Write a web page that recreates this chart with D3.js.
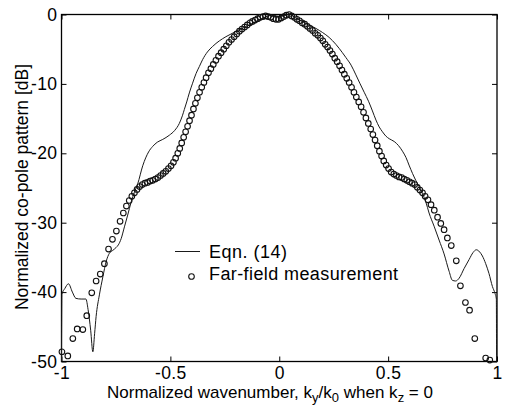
<!DOCTYPE html>
<html>
<head>
<meta charset="utf-8">
<script src="https://cdn.jsdelivr.net/npm/d3@7"></script>
<style>
  body { margin: 0; background: #fff; }
  text { font-family: "Liberation Sans", Arial, Helvetica, sans-serif; fill: #000; }
</style>
</head>
<body>
<div id="chart"></div>
<script>
// Eqn. (14) curve: normalized wavenumber ky/k0 and pattern in dB
var eqnK = [-1.000, -0.998, -0.985, -0.968, -0.950, -0.934, -0.910, -0.888, -0.878, -0.866,
  -0.856, -0.848, -0.841, -0.826, -0.810, -0.795, -0.780, -0.765, -0.750, -0.739,
  -0.726, -0.711, -0.696, -0.680, -0.665, -0.650, -0.627, -0.600, -0.581, -0.560,
  -0.535, -0.505, -0.480, -0.459, -0.445, -0.436, -0.425, -0.413, -0.398, -0.382,
  -0.367, -0.352, -0.330, -0.306, -0.275, -0.245, -0.215, -0.183, -0.150, -0.122,
  -0.100, -0.076, -0.050, -0.025, 0.000, 0.020, 0.046, 0.080, 0.100, 0.122,
  0.150, 0.168, 0.199, 0.229, 0.260, 0.290, 0.306, 0.330, 0.352, 0.370,
  0.390, 0.410, 0.428, 0.444, 0.459, 0.474, 0.489, 0.505, 0.528, 0.548,
  0.566, 0.582, 0.596, 0.612, 0.627, 0.642, 0.658, 0.673, 0.688, 0.711,
  0.734, 0.757, 0.780, 0.795, 0.810, 0.826, 0.849, 0.872, 0.890, 0.905,
  0.920, 0.933, 0.948, 0.963, 0.979, 0.991, 0.997, 0.998];
var eqnDb = [-50, -40.3, -39.5, -38.8, -40.0, -40.9, -41.0, -41.0, -42.5, -45.5,
  -48.6, -46.0, -43.5, -40.4, -37.8, -35.6, -34.4, -34.0, -33.6, -33.2,
  -32.3, -30.6, -28.9, -27.0, -25.6, -24.4, -21.8, -19.8, -19.0, -18.4,
  -18.0, -17.4, -16.7, -15.7, -14.6, -13.7, -12.6, -11.3, -9.9, -8.5,
  -7.5, -6.5, -5.4, -4.6, -3.8, -3.2, -2.7, -2.2, -1.7, -1.3,
  -0.9, -0.55, -0.2, -0.1, -0.3, -0.2, 0.0, -0.6, -0.9, -1.3,
  -1.7, -2.0, -2.6, -3.3, -4.3, -5.5, -6.2, -7.3, -8.7, -9.9,
  -11.2, -12.5, -13.9, -15.2, -16.2, -16.9, -17.5, -17.9, -18.3, -18.9,
  -19.7, -20.6, -21.7, -22.9, -23.9, -24.8, -25.8, -27.0, -28.6, -30.5,
  -32.5, -34.5, -37.0, -38.3, -38.4, -38.0, -36.6, -35.3, -34.3, -33.9,
  -34.2, -34.8, -35.9, -37.3, -39.2, -40.2, -41.0, -50];

// Far-field measurement points
var measK = [-0.998, -0.971, -0.948, -0.928, -0.902, -0.884, -0.861, -0.841, -0.822, -0.803,
  -0.784, -0.766, -0.748, -0.731, -0.716, -0.702, -0.689, -0.677, -0.665, -0.653,
  -0.641, -0.629, -0.617, -0.605, -0.593, -0.581, -0.569, -0.557, -0.545, -0.533,
  -0.521, -0.509, -0.497, -0.486, -0.476, -0.466, -0.457, -0.448, -0.439, -0.430,
  -0.421, -0.412, -0.403, -0.394, -0.385, -0.376, -0.366, -0.356, -0.346, -0.336,
  -0.325, -0.314, -0.303, -0.291, -0.279, -0.267, -0.255, -0.243, -0.231, -0.219,
  -0.207, -0.195, -0.183, -0.171, -0.159, -0.147, -0.135, -0.123, -0.111, -0.099,
  -0.087, -0.075, -0.063, -0.051, -0.039, -0.027, -0.015, -0.003, 0.009, 0.021,
  0.033, 0.045, 0.057, 0.069, 0.081, 0.093, 0.105, 0.117, 0.129, 0.141,
  0.153, 0.165, 0.177, 0.189, 0.200, 0.211, 0.222, 0.233, 0.244, 0.255,
  0.266, 0.277, 0.288, 0.299, 0.310, 0.321, 0.332, 0.343, 0.354, 0.365,
  0.376, 0.387, 0.398, 0.409, 0.420, 0.430, 0.440, 0.450, 0.460, 0.470,
  0.480, 0.491, 0.502, 0.514, 0.526, 0.538, 0.550, 0.562, 0.574, 0.586,
  0.598, 0.610, 0.622, 0.634, 0.646, 0.658, 0.670, 0.683, 0.697, 0.712,
  0.727, 0.742, 0.757, 0.772, 0.790, 0.813, 0.832, 0.855, 0.874, 0.898,
  0.948, 0.967];
var measDb = [-48.6, -49.2, -46.7, -45.3, -45.4, -43.4, -40.1, -38.4, -37.4, -35.9,
  -33.8, -32.4, -31.2, -29.8, -28.6, -27.6, -26.8, -26.2, -25.7, -25.2,
  -24.8, -24.5, -24.3, -24.2, -24.0, -23.9, -23.7, -23.5, -23.2, -22.9,
  -22.6, -22.2, -21.8, -21.3, -20.7, -20.0, -19.3, -18.5, -17.7, -16.9,
  -16.1, -15.3, -14.5, -13.6, -12.8, -12.0, -11.2, -10.5, -9.8, -9.1,
  -8.4, -7.8, -7.2, -6.6, -6.0, -5.5, -5.0, -4.5, -4.0, -3.6,
  -3.2, -2.8, -2.4, -2.1, -1.8, -1.5, -1.2, -1.0, -0.8, -0.6,
  -0.4, -0.3, -0.2, -0.3, -0.4, -0.6, -0.7, -0.7, -0.5, -0.3,
  -0.1, 0.0, -0.2, -0.4, -0.7, -0.9, -1.2, -1.4, -1.7, -2.0,
  -2.3, -2.7, -3.0, -3.4, -3.8, -4.3, -4.7, -5.2, -5.7, -6.3,
  -6.8, -7.4, -8.0, -8.6, -9.2, -9.8, -10.5, -11.2, -11.9, -12.6,
  -13.3, -14.1, -14.9, -15.7, -16.5, -17.3, -18.1, -18.9, -19.7, -20.4,
  -21.1, -21.7, -22.2, -22.7, -23.0, -23.2, -23.4, -23.5, -23.7, -23.9,
  -24.1, -24.3, -24.5, -24.9, -25.3, -25.7, -26.2, -26.7, -27.4, -28.2,
  -29.2, -30.1, -31.0, -32.2, -33.3, -35.5, -39.1, -41.5, -42.6, -46.7,
  -49.5, -49.8];

// tick values
var xTicks = [-1, -0.5, 0, 0.5, 1];
var yTicks = [-50, -40, -30, -20, -10, 0];

var svgWidth = 506;
var svgHeight = 405;
var margin = { top: 14.5, right: 9, bottom: 43.5, left: 61.5 };
var width = svgWidth - margin.left - margin.right;
var height = svgHeight - margin.top - margin.bottom;

var svg = d3.select("#chart")
  .append("svg")
  .attr("width", svgWidth)
  .attr("height", svgHeight);

var chartGroup = svg.append("g")
  .attr("transform", `translate(${margin.left}, ${margin.top})`);

// scales
var xScale = d3.scaleLinear().domain([-1, 1]).range([0, width]);
var yScale = d3.scaleLinear().domain([-50, 0]).range([height, 0]);

// axes, ticks pointing inward like matlab
function styleAxis(g) {
  g.select(".domain").remove();
  g.selectAll("line").attr("stroke", "#000").attr("stroke-width", 1);
  g.selectAll("text").attr("font-size", "17.5px").attr("fill", "#000")
    .attr("letter-spacing", "0.4px")
    .attr("font-family", "Liberation Sans, Arial, sans-serif");
}

chartGroup.append("g")
  .attr("transform", `translate(0, ${height})`)
  .call(d3.axisBottom(xScale).tickValues(xTicks).tickSizeInner(-5).tickSizeOuter(0)
    .tickPadding(5).tickFormat(d3.format("")))
  .call(styleAxis);

chartGroup.append("g")
  .call(d3.axisTop(xScale).tickValues(xTicks).tickSizeInner(-5).tickSizeOuter(0)
    .tickFormat(""))
  .call(styleAxis);

chartGroup.append("g")
  .call(d3.axisLeft(yScale).tickValues(yTicks).tickSizeInner(-5).tickSizeOuter(0)
    .tickPadding(4).tickFormat(d3.format("")))
  .call(styleAxis);

chartGroup.append("g")
  .attr("transform", `translate(${width}, 0)`)
  .call(d3.axisRight(yScale).tickValues(yTicks).tickSizeInner(-5).tickSizeOuter(0)
    .tickFormat(""))
  .call(styleAxis);

// hyphen minus like the original
chartGroup.selectAll(".tick text").text(function() {
  return this.textContent.replace("\u2212", "-");
});

// plot box
chartGroup.append("rect")
  .attr("width", width)
  .attr("height", height)
  .attr("fill", "none")
  .attr("stroke", "#000")
  .attr("stroke-width", 1.3);

// Eqn. (14) line
var eqnData = eqnK.map((k, i) => ({ k: k, db: eqnDb[i] }));
var line = d3.line()
  .x(d => xScale(d.k))
  .y(d => yScale(d.db))
  .curve(d3.curveMonotoneX);

chartGroup.append("path")
  .datum(eqnData)
  .attr("d", line)
  .attr("fill", "none")
  .attr("stroke", "#1a1a1a")
  .attr("stroke-width", 1);

// measurement circles
var measData = measK.map((k, i) => ({ k: k, db: measDb[i] }));
chartGroup.selectAll("circle.meas")
  .data(measData)
  .enter()
  .append("circle")
  .attr("class", "meas")
  .attr("cx", d => xScale(d.k))
  .attr("cy", d => yScale(d.db))
  .attr("r", 2.8)
  .attr("fill", "none")
  .attr("stroke", "#111")
  .attr("stroke-width", 1.1);

// legend
var legend = svg.append("g");
legend.append("line")
  .attr("x1", 175).attr("x2", 200)
  .attr("y1", 251.5).attr("y2", 251.5)
  .attr("stroke", "#1a1a1a")
  .attr("stroke-width", 1);
legend.append("text")
  .attr("x", 209).attr("y", 258)
  .attr("font-size", "18px")
  .attr("letter-spacing", "0.5px")
  .text("Eqn. (14)");
legend.append("circle")
  .attr("cx", 191.5).attr("cy", 276.5)
  .attr("r", 2.8)
  .attr("fill", "none")
  .attr("stroke", "#111")
  .attr("stroke-width", 1.1);
legend.append("text")
  .attr("x", 209).attr("y", 279.5)
  .attr("font-size", "18px")
  .attr("letter-spacing", "0.4px")
  .text("Far-field measurement");

// x-axis title with subscripts
var xTitle = svg.append("text")
  .attr("x", 270)
  .attr("y", 398)
  .attr("text-anchor", "middle")
  .attr("font-size", "17px");
xTitle.append("tspan").text("Normalized wavenumber, k");
xTitle.append("tspan").attr("dy", 4).attr("font-size", "13px").text("y");
xTitle.append("tspan").attr("dy", -4).text("/k");
xTitle.append("tspan").attr("dy", 4).attr("font-size", "13px").text("0");
xTitle.append("tspan").attr("dy", -4).text(" when k");
xTitle.append("tspan").attr("dy", 4).attr("font-size", "13px").text("z");
xTitle.append("tspan").attr("dy", -4).text(" = 0");

// y-axis title
svg.append("text")
  .attr("transform", "rotate(-90)")
  .attr("x", -187)
  .attr("y", 28)
  .attr("text-anchor", "middle")
  .attr("font-size", "17.5px")
  .text("Normalized co-pole pattern [dB]");
</script>
</body>
</html>
